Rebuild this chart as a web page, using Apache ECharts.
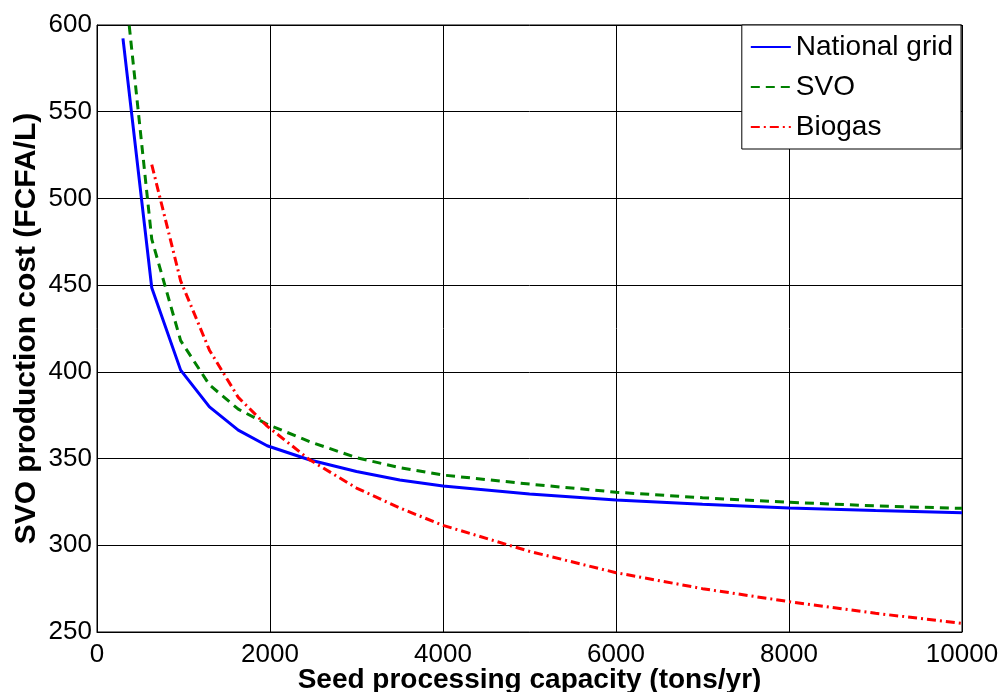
<!DOCTYPE html>
<html>
<head>
<meta charset="utf-8">
<script src="https://cdn.jsdelivr.net/npm/echarts@6/dist/echarts.min.js"></script>
<style>html,body{margin:0;padding:0;background:#fff;}#c{width:1002px;height:692px;}</style>
</head>
<body>
<div id="c"></div>
<script>
const capacity = [300, 633, 967, 1300, 1633, 1967, 2462, 3000, 3500, 4000, 5000, 6000, 7000, 8000, 9000, 10000];
const nationalGrid = [592.3, 448.5, 401, 379.8, 366.4, 357.4, 349.2, 342.5, 337.7, 334.2, 329.6, 326.1, 323.6, 321.5, 320.0, 318.8];
const svo = [634, 476.5, 418, 392.5, 378.5, 369.8, 359.7, 350.5, 344.8, 340.5, 335.3, 330.6, 327.4, 324.8, 322.7, 321.3];
const biogas = [null, 519.5, 452.5, 412.5, 385.3, 368.7, 349.2, 333, 321.5, 311.5, 296.5, 284.2, 275, 267.5, 260.8, 255];
const xTicks = { min: 0, max: 10000, interval: 2000 };
const yTicks = { min: 250, max: 600, interval: 50 };
const seriesNames = ['National grid', 'SVO', 'Biogas'];

const pairs = arr => capacity.map((x, i) => [x, arr[i]]);
const FONT = 'Liberation Sans';
const chart = echarts.init(document.getElementById('c'), null, { renderer: 'canvas' });
chart.setOption({
  animation: false,
  backgroundColor: '#fff',
  textStyle: { fontFamily: FONT },
  grid: { left: 97, right: 40, top: 25, bottom: 60, outerBoundsMode: 'none', containLabel: false,
          show: true, borderColor: '#000', borderWidth: 1, backgroundColor: 'transparent' },
  legend: {
    orient: 'vertical', right: 41, top: 25,
    itemStyle: { opacity: 0, borderWidth: 0 },
    backgroundColor: '#fff', borderColor: '#000', borderWidth: 1,
    padding: [8, 8, 8, 8], itemWidth: 40, itemHeight: 28, itemGap: 12,
    textStyle: { fontFamily: FONT, fontSize: 28, color: '#000' },
    data: seriesNames
  },
  xAxis: {
    type: 'value', min: xTicks.min, max: xTicks.max, interval: xTicks.interval,
    name: 'Seed processing capacity (tons/yr)', nameLocation: 'middle', nameGap: 34, nameMoveOverlap: false,
    nameTextStyle: { fontFamily: FONT, fontSize: 28, fontWeight: 'bold', color: '#000' },
    axisLine: { onZero: false, lineStyle: { color: '#000', width: 1 } },
    axisTick: { inside: true, length: 8, lineStyle: { color: '#000' } },
    axisLabel: { fontFamily: FONT, fontSize: 26, color: '#000', margin: 10, formatter: v => String(v) },
    splitLine: { show: true, lineStyle: { color: '#000', width: 1 } }
  },
  yAxis: {
    type: 'value', min: yTicks.min, max: yTicks.max, interval: yTicks.interval,
    name: 'SVO production cost (FCFA/L)', nameLocation: 'middle', nameGap: 55, nameMoveOverlap: false,
    nameTextStyle: { fontFamily: FONT, fontSize: 30, fontWeight: 'bold', color: '#000' },
    axisLine: { lineStyle: { color: '#000', width: 1 } },
    axisTick: { inside: true, length: 8, lineStyle: { color: '#000' } },
    axisLabel: { fontFamily: FONT, fontSize: 26, color: '#000', margin: 5 },
    splitLine: { show: true, lineStyle: { color: '#000', width: 1 } }
  },
  series: [
    { name: seriesNames[0], type: 'line', data: pairs(nationalGrid), symbol: 'none', clip: true,
      color: '#0000ff', lineStyle: { color: '#0000ff', width: 3, type: 'solid' } },
    { name: seriesNames[1], type: 'line', data: pairs(svo), symbol: 'none', clip: true,
      color: '#008000', lineStyle: { color: '#008000', width: 3, type: [9, 6] } },
    { name: seriesNames[2], type: 'line', data: pairs(biogas), symbol: 'none', clip: true,
      color: '#ff0000', lineStyle: { color: '#ff0000', width: 3, type: [9, 4, 2, 4] } }
  ]
});
</script>
</body>
</html>
